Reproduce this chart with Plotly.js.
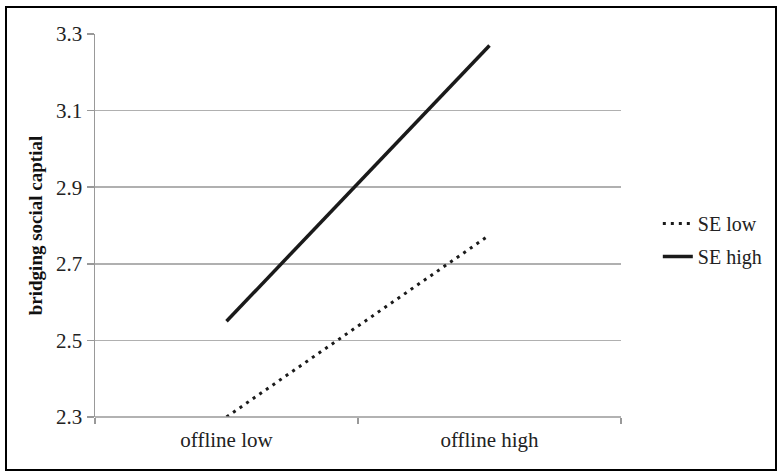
<!DOCTYPE html>
<html>
<head>
<meta charset="utf-8">
<script src="https://cdn.plot.ly/plotly-3.0.1.min.js"></script>
<style>html,body{margin:0;padding:0;background:#fff;}#chart{width:779px;height:472px;}</style>
</head>
<body>
<div id="chart"></div>
<script>
var categories = ["offline low", "offline high"];
var seriesNames = ["SE low", "SE high"];
var seLow = [2.30, 2.775];
var seHigh = [2.55, 3.27];
var yTicks = [2.3, 2.5, 2.7, 2.9, 3.1, 3.3];
var yTickLabels = ["2.3", "2.5", "2.7", "2.9", "3.1", "3.3"];

var font = "'Liberation Serif', 'Times New Roman', serif";

var traces = [
  {x: categories, y: seLow, name: seriesNames[0], mode: "lines", type: "scatter",
   legendgroup: "a", line: {color: "#1a1a1a", width: 3, dash: "3px,5px"}},
  {x: categories, y: seHigh, name: seriesNames[1], mode: "lines", type: "scatter",
   legendgroup: "b", line: {color: "#1a1a1a", width: 3.5}}
];

var layout = {
  width: 779, height: 472,
  margin: {l: 95, r: 158, t: 34, b: 55},
  paper_bgcolor: "#fff", plot_bgcolor: "#fff",
  font: {family: font, size: 20, color: "#222"},
  showlegend: true,
  legend: {x: 1.07, y: 0.556, xanchor: "left", yanchor: "top",
           traceorder: "grouped", tracegroupgap: 4,
           font: {family: font, size: 20, color: "#222"}, bgcolor: "rgba(0,0,0,0)"},
  xaxis: {type: "category", range: [-0.5, 1.5], tickson: "boundaries",
          ticks: "outside", ticklen: 6, tickcolor: "#999", tickwidth: 1.5,
          ticklabelstandoff: 8,
          showgrid: false, showline: false, zeroline: false,
          tickfont: {family: font, size: 21, color: "#222"}, fixedrange: true},
  yaxis: {range: [2.3, 3.3], tickvals: yTicks, ticktext: yTickLabels,
          ticks: "outside", ticklen: 7, tickcolor: "#999", tickwidth: 1.5,
          showgrid: true, gridcolor: "#b0b0b0", gridwidth: 1.5,
          showline: true, linecolor: "#999", linewidth: 1.5, zeroline: false,
          tickfont: {family: font, size: 21, color: "#222"},
          title: {text: "<b>bridging social captial</b>", standoff: 8,
                  font: {family: font, size: 19, color: "#111"}}},
  shapes: [
    {type: "line", xref: "paper", yref: "paper", x0: 0, x1: 1, y0: 0, y1: 0,
     line: {color: "#999", width: 1.5}},
    {type: "rect", xref: "paper", yref: "paper",
     x0: (6 - 95) / 526, x1: (776 - 95) / 526,
     y0: (417 - 470) / 383, y1: (417 - 7) / 383,
     line: {color: "#000", width: 2}, fillcolor: "rgba(0,0,0,0)", layer: "above"}
  ]
};

Plotly.newPlot("chart", traces, layout, {displayModeBar: false, staticPlot: true});
</script>
</body>
</html>
